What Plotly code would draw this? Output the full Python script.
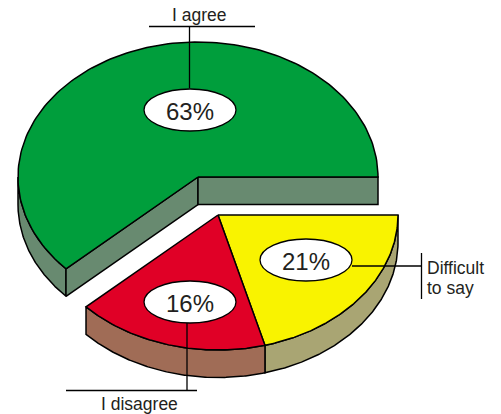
import numpy as np
import plotly.graph_objects as go

# Data
categories = ["I agree", "I disagree", "Difficult to say"]
printed_labels = ["63%", "16%", "21%"]
drawn_shares = [61.9, 17.3, 20.8]  # share of the circle each slice actually covers

# Styling / layout
top_colors = ["#009e3c", "#e00026", "#f9f300"]
wall_colors = ["#688a70", "#a06c56", "#a9a573"]
INK = "#231f20"
FONT = "Liberation Sans, Arial, sans-serif"
RX, RY, DEPTH = 180, 135, 27.5
CENTER_MAIN = (198, 177)
CENTER_EXPLODED = (218, 215)

angles = np.cumsum([0] + [s * 3.6 for s in drawn_shares])
# Slice order on the picture: green runs anticlockwise from east,
# then yellow and red run clockwise from east.
g_span = (0.0, -angles[1])
y_span = (0.0, drawn_shares[2] * 3.6)
r_span = (y_span[1], y_span[1] + drawn_shares[1] * 3.6)


def arc(c, a0, a1, dz=0.0):
    t = np.radians(np.linspace(a0, a1, 160))
    return c[0] + RX * np.cos(t), c[1] + RY * np.sin(t) + dz


def poly(fig, x, y, color):
    fig.add_trace(go.Scatter(
        x=np.append(x, x[0]), y=np.append(y, y[0]), mode="lines", fill="toself",
        fillcolor=color, line=dict(color="#000000", width=1.5),
        hoverinfo="skip", showlegend=False))


def sector(fig, c, a0, a1, color):
    x, y = arc(c, a0, a1)
    poly(fig, np.r_[c[0], x], np.r_[c[1], y], color)


def outer_wall(fig, c, a0, a1, color):
    x0, y0 = arc(c, a0, a1)
    x1, y1 = arc(c, a1, a0, DEPTH)
    poly(fig, np.r_[x0, x1], np.r_[y0, y1], color)


def cut_wall(fig, c, a, color):
    x, y = arc(c, a, a)
    xe, ye = x[0], y[0]
    poly(fig, np.array([c[0], xe, xe, c[0]]),
         np.array([c[1], ye, ye + DEPTH, c[1] + DEPTH]), color)


fig = go.Figure()

# Green slice: outer wall on the left, the two cut faces, then the top
outer_wall(fig, CENTER_MAIN, -180, g_span[1], wall_colors[0])
cut_wall(fig, CENTER_MAIN, g_span[1], wall_colors[0])
cut_wall(fig, CENTER_MAIN, g_span[0], wall_colors[0])
sector(fig, CENTER_MAIN, g_span[0], g_span[1], top_colors[0])

# Exploded slices
outer_wall(fig, CENTER_EXPLODED, y_span[0], y_span[1], wall_colors[2])
outer_wall(fig, CENTER_EXPLODED, r_span[0], r_span[1], wall_colors[1])
sector(fig, CENTER_EXPLODED, y_span[0], y_span[1], top_colors[2])
sector(fig, CENTER_EXPLODED, r_span[0], r_span[1], top_colors[1])

# Leader lines
leaders = [
    (149, 26.5, 255, 26.5), (189.5, 26.5, 189.5, 88),
    (352, 266, 421.5, 266), (421.5, 253, 421.5, 299),
    (187, 323, 187, 390.5), (66, 390.5, 197, 390.5),
]
shapes = [dict(type="line", xref="x", yref="y", x0=a, y0=b, x1=c, y1=d,
               line=dict(color="#000000", width=1.3), layer="above")
          for a, b, c, d in leaders]

# White label ovals
label_centres = [(190, 110), (190, 302), (306, 260)]
for cx, cy in label_centres:
    shapes.append(dict(type="circle", xref="x", yref="y",
                       x0=cx - 46, x1=cx + 46, y0=cy - 21, y1=cy + 21,
                       fillcolor="#ffffff", line=dict(color="#000000", width=1.3),
                       layer="above"))

annotations = []
for (cx, cy), txt in zip(label_centres, printed_labels):
    annotations.append(dict(x=cx, y=cy + 1, text=txt, xref="x", yref="y", showarrow=False,
                            xanchor="center", yanchor="middle",
                            font=dict(family=FONT, size=24, color=INK)))
for x, y, txt, anchor in [(199, 15, categories[0], "center"),
                          (139, 404, categories[1], "center"),
                          (427, 267.5, "Difficult", "left"),
                          (427, 287.5, "to say", "left")]:
    annotations.append(dict(x=x, y=y, text=txt, xref="x", yref="y", showarrow=False,
                            xanchor=anchor, yanchor="middle", xshift=0, borderpad=0, borderwidth=0,
                            font=dict(family=FONT, size=17.5, color=INK)))

fig.update_layout(
    width=501, height=414, margin=dict(l=0, r=0, t=0, b=0),
    paper_bgcolor="#ffffff", plot_bgcolor="#ffffff", showlegend=False,
    xaxis=dict(range=[0, 501], visible=False, fixedrange=True),
    yaxis=dict(range=[414, 0], visible=False, fixedrange=True),
    shapes=shapes, annotations=annotations,
)
fig.write_html("out.html", config=dict(displayModeBar=False),
               post_script="document.documentElement.style.overflow='hidden';document.body.style.margin='0';")
